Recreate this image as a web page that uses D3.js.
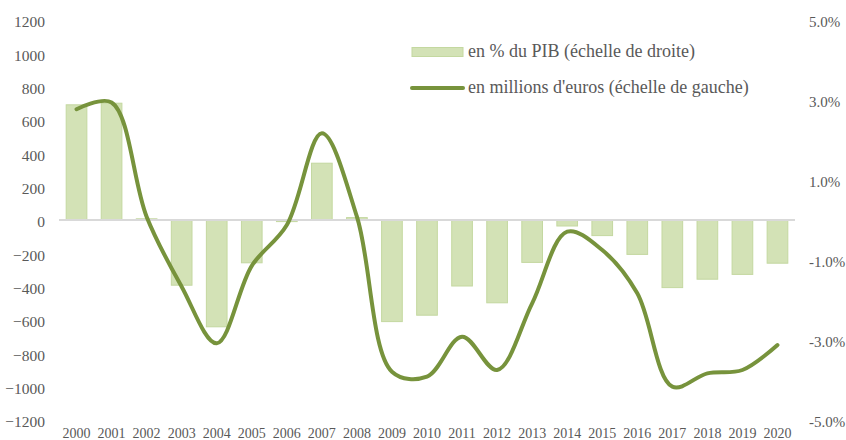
<!DOCTYPE html>
<html>
<head>
<meta charset="utf-8">
<script src="https://cdn.jsdelivr.net/npm/d3@7"></script>
<style>
  body { margin: 0; background: #fff; }
  svg text { font-family: "Liberation Serif"; }
</style>
</head>
<body>
<div id="chart"></div>
<script>
// data
var years = ["2000","2001","2002","2003","2004","2005","2006","2007","2008","2009","2010",
             "2011","2012","2013","2014","2015","2016","2017","2018","2019","2020"];
// bars: balance in % of GDP (right scale)
var pctPIB = [2.88, 2.92, 0.03, -1.63, -2.67, -1.07, -0.04, 1.42, 0.06, -2.54, -2.38,
              -1.65, -2.07, -1.06, -0.15, -0.39, -0.86, -1.69, -1.48, -1.36, -1.08];
// line: balance in millions of euros (left scale)
var millions = [665, 705, 20, -400, -740, -275, -30, 520, 20, -910, -940,
                -700, -900, -500, -70, -180, -440, -1000, -920, -900, -750];
var leftTicks = [-1200, -1000, -800, -600, -400, -200, 0, 200, 400, 600, 800, 1000, 1200];
var rightTicks = [-5, -3, -1, 1, 3, 5];
var legendLabels = ["en % du PIB (échelle de droite)", "en millions d'euros (échelle de gauche)"];

var width = 846, height = 440;
var margin = {top: 20, right: 51, bottom: 20, left: 59};

var svg = d3.select("#chart").append("svg")
  .attr("width", width)
  .attr("height", height);

// x band scale
var x = d3.scaleBand()
  .domain(years)
  .range([margin.left, width - margin.right])
  .paddingInner(0.41)
  .paddingOuter(0.205);

var yLeft = d3.scaleLinear().domain([-1200, 1200]).range([height - margin.bottom, margin.top]);
var yRight = d3.scaleLinear().domain([-5, 5]).range([height - margin.bottom, margin.top]);

// left axis
var axL = svg.append("g")
  .attr("transform", "translate(" + (margin.left - 14) + ",0)")
  .call(d3.axisLeft(yLeft).tickValues(leftTicks).tickSize(0).tickPadding(0)
    .tickFormat(d3.format("d")));
axL.select(".domain").remove();
axL.selectAll("text")
  .attr("font-family", "Liberation Serif").style("font-size", "15.5px").style("fill", "#595959")
  .attr("dy", "0.45em");

// right axis
var axR = svg.append("g")
  .attr("transform", "translate(" + (width - 37) + ",0)")
  .call(d3.axisRight(yRight).tickValues(rightTicks).tickSize(0).tickPadding(0)
    .tickFormat(function(d) { return d3.format(".1f")(d).replace("−", "-") + "%"; }));
axR.select(".domain").remove();
axR.selectAll("text")
  .attr("font-family", "Liberation Serif").style("font-size", "15px").style("fill", "#595959")
  .attr("dy", "0.45em");

// bars
svg.append("g")
  .selectAll("rect")
  .data(pctPIB)
  .enter()
  .append("rect")
    .attr("x", function(d, i) { return x(years[i]); })
    .attr("width", x.bandwidth())
    .attr("y", function(d) { return yRight(Math.max(0, d)); })
    .attr("height", function(d) { return Math.abs(yRight(d) - yRight(0)); })
    .style("fill", "#d3e2b6")
    .style("stroke", "#c4d8a0")
    .style("stroke-width", 1);

// zero line
svg.append("line")
  .attr("x1", margin.left)
  .attr("x2", width - margin.right)
  .attr("y1", yLeft(0))
  .attr("y2", yLeft(0))
  .style("stroke", "#d9d9d9")
  .style("stroke-width", 2);

// x labels
svg.append("g")
  .selectAll("text")
  .data(years)
  .enter()
  .append("text")
    .attr("x", function(d) { return x(d) + x.bandwidth() / 2; })
    .attr("y", height - 2.5)
    .attr("text-anchor", "middle")
    .attr("font-family", "Liberation Serif")
    .style("font-size", "14px")
    .style("fill", "#595959")
    .text(function(d) { return d; });

// smoothed line
var line = d3.line()
  .x(function(d, i) { return x(years[i]) + x.bandwidth() / 2; })
  .y(function(d) { return yLeft(d); })
  .curve(d3.curveCatmullRom.alpha(0.5));

svg.append("path")
  .datum(millions)
  .attr("d", line)
  .style("fill", "none")
  .style("stroke", "#77933c")
  .style("stroke-width", 4)
  .style("stroke-linecap", "round");

// legend
var lg = svg.append("g").attr("transform", "translate(412,0)");
lg.append("rect")
  .attr("x", 0).attr("y", 47.5).attr("width", 51).attr("height", 9)
  .style("fill", "#d3e2b6").style("stroke", "#c4d8a0");
lg.append("line")
  .attr("x1", 0).attr("x2", 51).attr("y1", 88).attr("y2", 88)
  .style("stroke", "#77933c").style("stroke-width", 4).style("stroke-linecap", "round");
lg.selectAll("text.leg")
  .data(legendLabels)
  .enter()
  .append("text")
    .attr("class", "leg")
    .attr("x", 56)
    .attr("y", function(d, i) { return 51 + i * 36; })
    .attr("dy", "0.35em")
    .attr("font-family", "Liberation Serif")
    .style("font-size", "18px")
    .style("fill", "#595959")
    .text(function(d) { return d; });
</script>
</body>
</html>
